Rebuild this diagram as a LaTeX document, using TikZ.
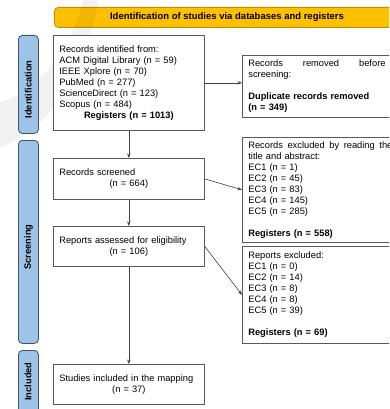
\documentclass[tikz,border=0pt]{standalone}
\usepackage{fontspec}
\setmainfont{Liberation Sans}
\usetikzlibrary{arrows.meta}
\definecolor{titlefill}{HTML}{FFC000}
\definecolor{titleedge}{HTML}{BF9000}
\definecolor{sidefill}{HTML}{9DC3E6}
\definecolor{sideedge}{HTML}{3F5468}
\definecolor{boxedge}{HTML}{595959}
\definecolor{arrowcol}{HTML}{404040}
\begin{document}
\begin{tikzpicture}[x=1pt,y=-1pt,
  txt/.style={font=\fontsize{9.3}{11}\selectfont},
  lbox/.style={txt, draw=boxedge, line width=0.7pt, fill=white, rectangle,
     inner xsep=6pt, inner ysep=2pt, text width=139pt, minimum width=151pt,
     align=left, anchor=north west},
  rbox/.style={lbox, text width=156pt, minimum width=168pt},
  sidebox/.style={draw=sideedge, line width=0.8pt, fill=sidefill, rounded corners=4pt,
     minimum width=20pt, anchor=north west, inner sep=0pt},
  sidetext/.style={font=\fontsize{9.3}{11}\selectfont\bfseries, rotate=90},
  flow/.style={draw=arrowcol, line width=0.6pt, -{Stealth[length=4.5pt,width=3.5pt]}}
]
\clip (0,0) rectangle (389,409);
\fill[white] (0,0) rectangle (389,409);

% title bar
\node[draw=titleedge, line width=0.8pt, fill=titlefill, rounded corners=4pt,
  minimum width=370pt, minimum height=20pt, anchor=north west, inner sep=0pt] (title) at (54,7) {};
\node[font=\fontsize{9.5}{11}\selectfont\bfseries] (titletext) at (227,17.5)
  {Identification of studies via databases and registers};

% faint watermark
\fill[black, opacity=0.05]
  (84,-2) -- (99,-2) .. controls (88,55) and (70,115) .. (0,148)
  -- (0,102) .. controls (40,92) and (72,45) .. cycle;

% side labels
\node[sidebox, minimum height=98pt] (s1) at (18,35) {};
\node[sidetext] (s1t) at ([yshift=-5pt]s1.center) {Identification};
\node[sidebox, minimum height=203pt] (s2) at (18,140) {};
\node[sidetext] (s2t) at ([yshift=-5pt]s2.center) {Screening};
\node[sidebox, minimum height=80pt] (s3) at (18,350) {};
\node[sidetext] (s3t) at (28,381.5) {Included};

% left column
\node[lbox, minimum height=95pt] (b1) at (53,35)
  {Records identified from:\\
   ACM Digital Library (n = 59)\\
   IEEE Xplore (n = 70)\\
   PubMed (n = 277)\\
   ScienceDirect (n = 123)\\
   Scopus (n = 484)\par
   {\centering\bfseries Registers (n = 1013)\par}};
\node[lbox, minimum height=41pt] (b3) at (53,158)
  {Records screened\par{\centering (n = 664)\par}};
\node[lbox, minimum height=40pt] (b5) at (53,226)
  {Reports assessed for eligibility\par{\centering (n = 106)\par}};
\node[lbox, minimum height=40pt] (b7) at (53,364)
  {Studies included in the mapping\par{\centering (n = 37)\par}};

% right column
\node[rbox, minimum height=62pt] (b2) at (242,55)
  {Records\hspace*{20pt}removed\hspace*{20pt}before\\
   screening:\\[11pt]
   \textbf{Duplicate records removed}\\
   \textbf{(n = 349)}};
\node[rbox, minimum height=105pt] (b4) at (242,137)
  {Records\hspace{1.5pt} excluded\hspace{1.5pt} by\hspace{1.5pt} reading\hspace{1.5pt} the\\
   title and abstract:\\
   EC1 (n = 1)\\
   EC2 (n = 45)\\
   EC3 (n = 83)\\
   EC4 (n = 145)\\
   EC5 (n = 285)\\[11pt]
   \textbf{Registers (n = 558)}};
\node[rbox, minimum height=97pt] (b6) at (242,246)
  {Reports excluded:\\
   EC1 (n = 0)\\
   EC2 (n = 14)\\
   EC3 (n = 8)\\
   EC4 (n = 8)\\
   EC5 (n = 39)\\[11pt]
   \textbf{Registers (n = 69)}};

% connectors
\draw[flow] (b1.east) -- (b1.east -| b2.west);
\draw[flow] (b1.south) -- (b3.north);
\draw[flow] (b3.south) -- (b5.north);
\draw[flow] (b5.south) -- (b7.north);
\draw[flow] (b3.east) -- (b4.west);
\draw[flow] (b5.east) -- (b6.west);
\end{tikzpicture}
\end{document}
